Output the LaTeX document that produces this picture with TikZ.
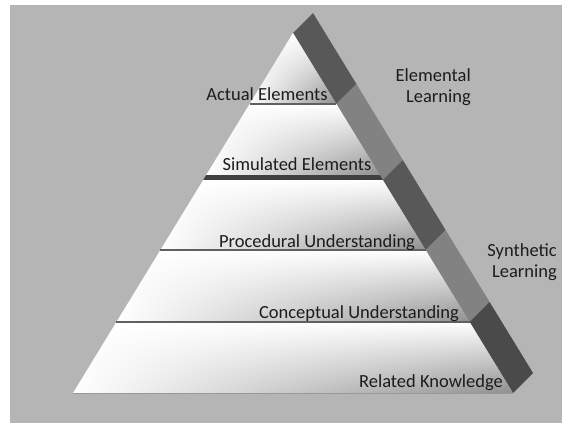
\documentclass[tikz,border=0pt]{standalone}
\usepackage{fontspec}
\setmainfont{Carlito}
\usetikzlibrary{calc,shadings}
\definecolor{bggray}{HTML}{B5B5B5}
\definecolor{stripdark}{HTML}{585858}
\definecolor{stripdarker}{HTML}{4A4A4A}
\definecolor{striplight}{HTML}{828282}
\definecolor{txt}{HTML}{1C1C1C}
\definecolor{divline}{HTML}{606060}
\tikzset{
  band/.style={upper left=white, upper right=white, lower left=white, lower right=gray!88},
  divider/.style={draw=divline, line width=1.4pt},
  lbl/.style={font=\fontsize{18.5}{21}\selectfont, text=txt, inner sep=0pt},
}
\begin{document}
\begin{tikzpicture}[x=1pt,y=-1pt]
\useasboundingbox (0,0) rectangle (562,423);
\fill[white] (0,0) rectangle (562,423);
\fill[bggray] (10,5) rectangle (562,423);
% pyramid corner coordinates
\coordinate (apex) at (293,33);
\coordinate (l1) at (249.6,104); \coordinate (r1) at (336.4,104);
\coordinate (l2) at (206.2,175); \coordinate (r2) at (379.8,175);
\coordinate (l2b) at (203.2,180); \coordinate (r2b) at (382.8,180);
\coordinate (l3) at (160.4,250); \coordinate (r3) at (425.6,250);
\coordinate (l4) at (116.4,322); \coordinate (r4) at (469.6,322);
\coordinate (l5) at (73,393); \coordinate (r5) at (513,393);
% side strip
\fill[stripdark] (apex) -- ++(20,-20) -- ($(r1)+(20,-20)$) -- (r1) -- cycle;
\fill[striplight] (r1) -- ++(20,-20) -- ($(r2b)+(20,-20)$) -- (r2b) -- cycle;
\fill[stripdark] (r2b) -- ++(20,-20) -- ($(r3)+(20,-20)$) -- (r3) -- cycle;
\fill[striplight] (r3) -- ++(20,-20) -- ($(r4)+(20,-20)$) -- (r4) -- cycle;
\fill[stripdarker] (r4) -- ++(20,-20) -- ($(r5)+(20,-20)$) -- (r5) -- cycle;
% bands
\shade[band] (apex) -- (r1) -- (l1) -- cycle;
\shade[band] (l1) -- (r1) -- (r2) -- (l2) -- cycle;
\fill[black!75] (l2) -- (r2) -- (r2b) -- (l2b) -- cycle;
\shade[band] (l2b) -- (r2b) -- (r3) -- (l3) -- cycle;
\shade[band] (l3) -- (r3) -- (r4) -- (l4) -- cycle;
\shade[band] (l4) -- (r4) -- (r5) -- (l5) -- cycle;
\draw[divider] (l1) -- (r1);
\draw[divider] (l3) -- (r3);
\draw[divider] (l4) -- (r4);
\draw[draw=gray!80, line width=0.8pt] (l5) -- (r5);
% labels
\node[lbl, anchor=base] (actual) at (267,100) {Actual Elements};
\node[lbl, anchor=base] (simulated) at (297,170) {Simulated Elements};
\node[lbl, anchor=base] (procedural) at (317,247) {Procedural Understanding};
\node[lbl, anchor=base] (conceptual) at (359,318) {Conceptual Understanding};
\node[lbl, anchor=base] (related) at (431,387) {Related Knowledge};
\node[lbl, anchor=east, align=right] (elemental) at (471,87.5) {Elemental\\Learning};
\node[lbl, anchor=east, align=right] (synthetic) at (557,262.5) {Synthetic\\Learning};
\end{tikzpicture}
\end{document}
